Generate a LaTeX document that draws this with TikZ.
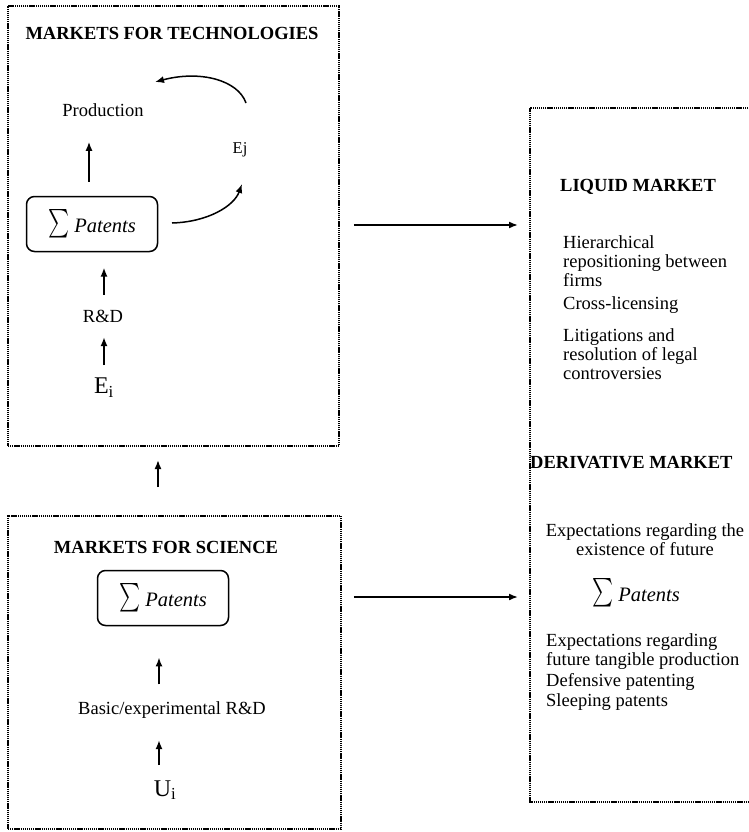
\documentclass[tikz,border=0pt]{standalone}
\usepackage{fontspec}
\setmainfont{Liberation Serif}
\usetikzlibrary{arrows.meta,calc}
\newcommand{\mysum}{\raisebox{-6pt}{\resizebox*{21pt}{29pt}{$\sum$}}}
\tikzset{
  txt/.style={inner sep=0pt, font=\fontsize{18.5}{19}\selectfont},
  hdr/.style={inner sep=0pt, font=\fontsize{18.5}{19}\selectfont\bfseries},
  big/.style={inner sep=0pt, font=\fontsize{24}{26}\selectfont},
  dotbox/.style={draw, line width=1.9pt, dash pattern=on 1.3pt off 0.8pt},
  patbox/.style={draw, line width=1.5pt, rounded corners=8pt, minimum width=131pt, minimum height=55pt, inner sep=0pt, font=\fontsize{20.5}{22}\selectfont},
  arr/.style={line width=1.7pt, -{Latex[length=9pt,width=7pt]}},
  carr/.style={line width=1.5pt, -{Latex[length=9pt,width=7pt]}},
}
\begin{document}
\begin{tikzpicture}[x=1pt,y=-1pt]
\useasboundingbox (0,0) rectangle (748,832);
% boxes
\node[dotbox, anchor=north west, minimum width=331pt, minimum height=440pt, inner sep=0pt] (techbox) at (7,5) {};
\node[dotbox, anchor=north west, minimum width=333pt, minimum height=313pt, inner sep=0pt] (scibox) at (7,515) {};
\draw[dotbox] (748,108) -- (530,108) -- (530,802) -- (748,802);
\coordinate (rtop) at (530,225);
\coordinate (rbot) at (530,597);

% markets for technologies
\node[hdr] (t1) at (172,33) {MARKETS FOR TECHNOLOGIES};
\node[txt] (prod) at (103,110) {Production};
\node[txt, font=\fontsize{16.5}{18}\selectfont] (ej) at (240,150) {Ej};
\node[patbox] (pat1) at (92,224) {\mysum\ \textit{Patents}};
\node[txt] (rd) at (103,316) {R\&D};
\node[big] (ei) at (104,388) {E\textsubscript{i}};

\draw[arr] (pat1.north -| 89,0) ++(0,-14) -- ++(0,-40);
\draw[arr] (rd.north -| 104,0) ++(0,-15) -- ++(0,-27);
\draw[arr] (ei.north -| 104,0) ++(0,-13) -- ++(0,-28);

\coordinate (c1s) at (172,223);
\coordinate (c1e) at (242,184);
\coordinate (c2s) at (246,103);
\coordinate (c2e) at (155,82);
\draw[carr] (c1s) .. controls (208,222) and (234,206) .. (c1e);
\draw[carr] (c2s) .. controls (238,80) and (200,70) .. (c2e);

% between boxes
\draw[arr] (scibox.north -| 158,0) ++(0,-28) -- ++(0,-27);

% markets for science
\node[hdr] (s1) at (166,547) {MARKETS FOR SCIENCE};
\node[patbox] (pat2) at (163,598) {\mysum\ \textit{Patents}};
\node[txt] (bas) at (172,710) {Basic/experimental R\&D};
\node[big] (ui) at (165,790) {U\textsubscript{i}};
\draw[arr] (bas.north -| 159,0) ++(0,-17) -- ++(0,-27);
\draw[arr] (ui.north -| 159,0) ++(0,-15) -- ++(0,-25);

% horizontal arrows
\draw[arr] (techbox.east |- rtop) ++(14,0) -- ($(rtop)+(-12,0)$);
\draw[arr] (scibox.east |- rbot) ++(12,0) -- ($(rbot)+(-12,0)$);

% liquid market
\node[hdr, anchor=base west] (lm) at (560,191) {LIQUID MARKET};
\node[txt, anchor=base west, align=left] (l1) at (563,286) {Hierarchical\\repositioning between\\firms};
\node[txt, anchor=base west] (l2) at (563,309) {Cross-licensing};
\node[txt, anchor=base west, align=left] (l3) at (563,379) {Litigations and\\resolution of legal\\controversies};

% derivative market
\node[hdr, anchor=base west] (dm) at (530,468) {DERIVATIVE MARKET};
\node[txt, anchor=base, align=center] (d1) at (645,555) {Expectations regarding the\\existence of future};
\node[inner sep=0pt, font=\fontsize{20.5}{22}\selectfont] (d2) at (636,593) {\mysum\ \textit{Patents}};
\node[txt, anchor=base west, align=left] (d3) at (546,665) {Expectations regarding\\future tangible production};
\node[txt, anchor=base west] (d4) at (546,686) {Defensive patenting};
\node[txt, anchor=base west] (d5) at (546,706) {Sleeping patents};
\end{tikzpicture}
\end{document}
